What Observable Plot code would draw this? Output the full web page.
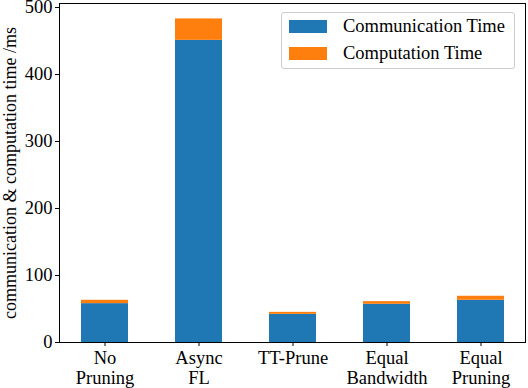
<!DOCTYPE html>
<html>
<head>
<meta charset="utf-8">
<script src="https://cdn.jsdelivr.net/npm/d3@7"></script>
<script src="https://cdn.jsdelivr.net/npm/@observablehq/plot@0.6"></script>
<style>
  html, body { margin: 0; padding: 0; background: #fff; }
  #wrap { position: relative; width: 528px; height: 388px; font-family: "Liberation Serif", serif; }
  #chart svg, #chart svg text, #chart svg tspan { font-family: "Liberation Serif", serif !important; }
  #legend {
    position: absolute; left: 281px; top: 12px; width: 234px; height: 57px;
    border: 1px solid #cccccc; border-radius: 3px; background: rgba(255,255,255,0.8);
    box-sizing: border-box; font-size: 18.5px; color: #000;
  }
  .item { position: absolute; left: 7px; display: flex; align-items: center; white-space: nowrap; }
  .sw { width: 38px; height: 13px; margin-right: 16px; }
</style>
</head>
<body>
<div id="wrap">
  <div id="chart"></div>
  <div id="legend"></div>
</div>
<script>
const methods = ["No Pruning", "Async FL", "TT-Prune", "Equal Bandwidth", "Equal Pruning"];
const tickLabels = ["No\nPruning", "Async\nFL", "TT-Prune", "Equal\nBandwidth", "Equal\nPruning"];
const seriesNames = ["Communication Time", "Computation Time"];
const commTime = [58, 451, 42, 57, 63];
const compTime = [5, 32, 3, 4, 6];
const colors = ["#1f77b4", "#ff7f0e"];
const yTicks = [0, 100, 200, 300, 400, 500];

const data = [];
methods.forEach((m, i) => {
  data.push({method: m, type: seriesNames[0], value: commTime[i]});
  data.push({method: m, type: seriesNames[1], value: compTime[i]});
});

const labelOf = new Map(methods.map((m, i) => [m, tickLabels[i]]));
const FONT = "Liberation Serif";

const chart = Plot.plot({
  width: 528,
  height: 388,
  marginLeft: 59,
  marginRight: 3,
  marginTop: 3,
  marginBottom: 46,
  style: {fontFamily: FONT, fontSize: "18.5px", background: "#fff", color: "#000"},
  x: {domain: methods, paddingInner: 0.5, paddingOuter: 0.2235},
  y: {domain: [0, 506]},
  color: {domain: seriesNames, range: colors},
  marks: [
    Plot.barY(data, {x: "method", y: "value", fill: "type"}),
    Plot.frame({stroke: "#000", strokeWidth: 1}),
    Plot.axisY({ticks: yTicks, tickSize: 4, tickPadding: 3, label: null, fontSize: 18.5, fontFamily: FONT}),
    Plot.axisX({tickSize: 4, tickPadding: 3, label: null, tickFormat: d => labelOf.get(d), lineHeight: 1.08, fontSize: 18.5, fontFamily: FONT}),
    Plot.text(["communication & computation time /ms"], {
      frameAnchor: "left", dx: -49, rotate: -90, fontSize: 18, fontFamily: FONT, textAnchor: "middle"
    })
  ]
});
document.getElementById("chart").appendChild(chart);

const legend = document.getElementById("legend");
seriesNames.forEach((name, i) => {
  const item = document.createElement("div");
  item.className = "item";
  item.style.top = (i === 0 ? 3 : 30) + "px";
  const sw = document.createElement("div");
  sw.className = "sw";
  sw.style.background = colors[i];
  const t = document.createElement("span");
  t.textContent = name;
  item.appendChild(sw);
  item.appendChild(t);
  legend.appendChild(item);
});
</script>
</body>
</html>
